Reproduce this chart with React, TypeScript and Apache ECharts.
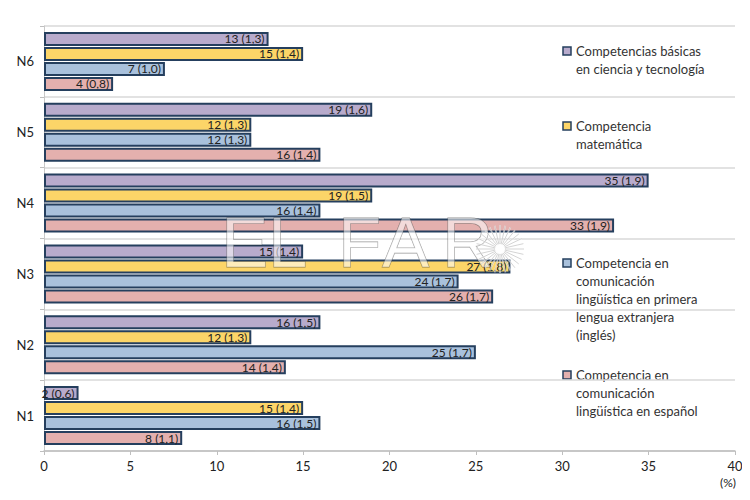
import { useEffect, useRef } from 'react';
import * as echarts from 'echarts';

// Performance levels (category axis, bottom to top)
const levels = ['N1', 'N2', 'N3', 'N4', 'N5', 'N6'];

// Percentage of students per level and its standard error, per competence
const ciencia = [2, 16, 15, 35, 19, 13];
const cienciaSE = [0.6, 1.5, 1.4, 1.9, 1.6, 1.3];
const matematica = [15, 12, 27, 19, 12, 15];
const matematicaSE = [1.4, 1.3, 1.8, 1.5, 1.3, 1.4];
const ingles = [16, 25, 24, 16, 12, 7];
const inglesSE = [1.5, 1.7, 1.7, 1.4, 1.3, 1.0];
const espanol = [8, 14, 26, 33, 16, 4];
const espanolSE = [1.1, 1.4, 1.7, 1.9, 1.4, 0.8];

const seriesNames = [
  'Competencias básicas en ciencia y tecnología',
  'Competencia matemática',
  'Competencia en comunicación lingüística en primera lengua extranjera (inglés)',
  'Competencia en comunicación lingüística en español',
];
// Legend text, broken into lines
const legendLines = [
  ['Competencias básicas', 'en ciencia y tecnología'],
  ['Competencia', 'matemática'],
  ['Competencia en', 'comunicación', 'lingüística en primera', 'lengua extranjera', '(inglés)'],
  ['Competencia en', 'comunicación', 'lingüística en español'],
];
const colors = ['#b8abcc', '#fcd568', '#a9c1dc', '#e4b0ae'];
const values = [ciencia, matematica, ingles, espanol];
const errors = [cienciaSE, matematicaSE, inglesSE, espanolSE];

const xMin = 0;
const xMax = 40;
const xStep = 5;
const xUnit = '(%)';

const FONT = 'Lato, "Open Sans", sans-serif';
const BORDER = '#253f5e';

const fmt = (n: number) => n.toFixed(1).replace('.', ',');

// Faint "EL FARO" watermark on top of the bars: outlined letters plus a rayed sun for the O
function watermark(): any[] {
  const letters = [
    { ch: 'E', x: 221 },
    { ch: 'L', x: 268 },
    { ch: 'F', x: 338 },
    { ch: 'A', x: 382 },
    { ch: 'R', x: 442 },
  ];
  const els: any[] = letters.map((l) => ({
    type: 'text',
    x: l.x,
    y: 207,
    z: 50,
    silent: true,
    style: {
      text: l.ch,
      font: `71px "Liberation Sans", sans-serif`,
      verticalAlign: 'top',
      fill: 'rgba(255,255,255,0.55)',
      stroke: 'rgba(40,40,40,0.5)',
      lineWidth: 0.8,
    },
  }));
  const cx = 500;
  const cy = 249;
  const rays: any[] = [];
  for (let k = 0; k < 28; k++) {
    const a = (k / 28) * Math.PI * 2;
    const shape = {
      x1: cx + Math.cos(a) * 5,
      y1: cy + Math.sin(a) * 5,
      x2: cx + Math.cos(a) * 24,
      y2: cy + Math.sin(a) * 24,
    };
    rays.push({
      type: 'line',
      z: 50,
      silent: true,
      shape,
      style: { stroke: 'rgba(255,255,255,0.7)', lineWidth: 1.6 },
    });
    rays.push({
      type: 'line',
      z: 51,
      silent: true,
      shape,
      style: { stroke: 'rgba(40,40,40,0.4)', lineWidth: 0.5 },
    });
  }
  return [...els, ...rays];
}

export default function App() {
  const ref = useRef<HTMLDivElement>(null);

  useEffect(() => {
    if (!ref.current) return;
    const chart = echarts.init(ref.current, undefined, { renderer: 'svg' });

    const legendTop = [51, 126, 263, 375];
    const legendGraphics: any[] = [];
    legendLines.forEach((lines, i) => {
      legendGraphics.push({
        type: 'rect',
        shape: { x: 563, y: legendTop[i] - 4, width: 8, height: 8 },
        style: { fill: colors[i], stroke: BORDER, lineWidth: 1.5 },
      });
      legendGraphics.push({
        type: 'text',
        x: 576,
        y: legendTop[i] - 9,
        style: {
          text: lines.join('\n'),
          font: `13px ${FONT}`,
          fill: '#333',
          lineHeight: 18,
          verticalAlign: 'top',
        },
      });
    });

    chart.setOption({
      animation: false,
      textStyle: { fontFamily: FONT },
      grid: { left: 44, right: 15, top: 26, bottom: 49, containLabel: false },
      xAxis: {
        type: 'value',
        min: xMin,
        max: xMax,
        interval: xStep,
        name: xUnit,
        nameLocation: 'end',
        nameGap: 1,
        nameTextStyle: {
          color: '#222',
          fontSize: 12,
          align: 'right',
          verticalAlign: 'top',
          padding: [25, 0, 0, 0],
        },
        axisLine: { show: true, lineStyle: { color: '#bfbfbf', width: 1.5 } },
        axisTick: { show: true, length: 4, lineStyle: { color: '#bfbfbf' } },
        splitLine: { show: false },
        axisLabel: { color: '#222', fontSize: 13, margin: 8 },
      },
      yAxis: {
        type: 'category',
        data: levels,
        axisLine: { show: true, lineStyle: { color: '#c8c8c8', width: 1 } },
        axisTick: { show: true, length: 4, lineStyle: { color: '#bfbfbf' } },
        splitLine: { show: true, lineStyle: { color: '#d9d9d9', width: 1.5 } },
        axisLabel: { color: '#222', fontSize: 13, margin: 10 },
      },
      series: values.map((data, i) => ({
        type: 'bar',
        name: seriesNames[i],
        data,
        barWidth: 14,
        barGap: '7%',
        itemStyle: { color: colors[i], borderColor: BORDER, borderWidth: 2 },
        label: {
          show: true,
          position: 'insideRight',
          distance: 4,
          color: '#222',
          fontSize: 12,
          textBorderWidth: 0,
          formatter: (p: any) => `${p.value} (${fmt(errors[i][p.dataIndex])})`,
        },
      })),
      graphic: [...legendGraphics, ...watermark()],
    });

    return () => chart.dispose();
  }, []);

  return <div ref={ref} style={{ width: 750, height: 500, margin: -8 }} />;
}
